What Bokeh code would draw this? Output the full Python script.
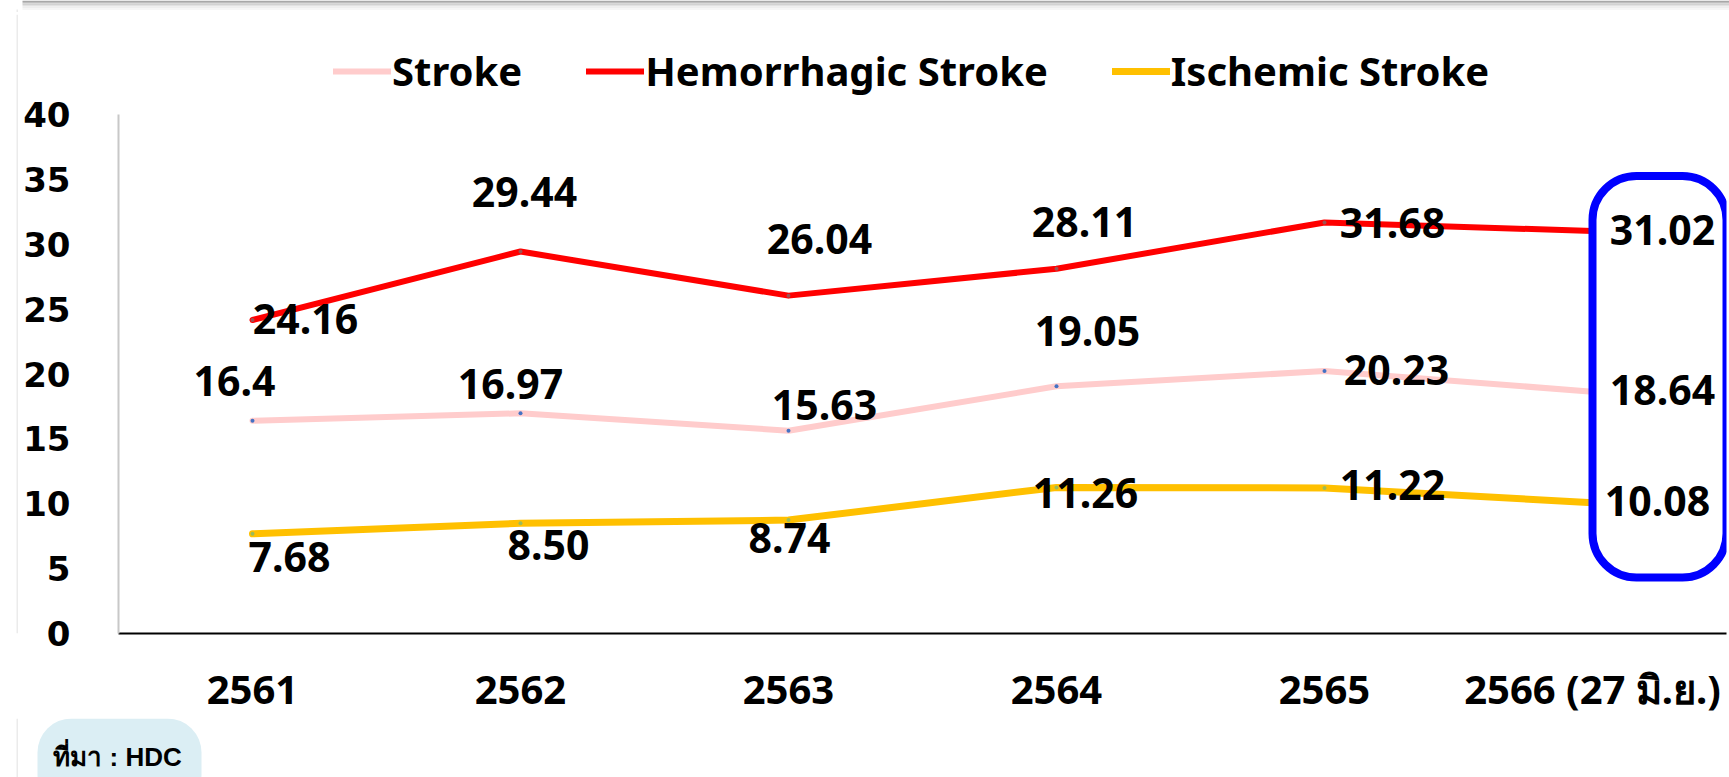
from bokeh.plotting import figure
from bokeh.layouts import column, row
from bokeh.models import (Range1d, FactorRange, Legend, LegendItem, BoxAnnotation, Label, FixedTicker)
from bokeh.core.properties import value
from bokeh.embed import file_html
from bokeh.resources import INLINE

# ---------------- data ----------------
categories = ["2561", "2562", "2563", "2564", "2565", "2566 (27 มิ.ย.)"]
stroke = [16.4, 16.97, 15.63, 19.05, 20.23, 18.64]
hemorrhagic = [24.16, 29.44, 26.04, 28.11, 31.68, 31.02]
ischemic = [7.68, 8.50, 8.74, 11.26, 11.22, 10.08]
series_names = ["Stroke", "Hemorrhagic Stroke", "Ischemic Stroke"]
y_ticks = [0, 5, 10, 15, 20, 25, 30, 35, 40]
source_note = "ที่มา : HDC"

stroke_labels = [f"{v:g}" for v in stroke]
hem_labels = [f"{v:.2f}" for v in hemorrhagic]
isc_labels = [f"{v:.2f}" for v in ischemic]

# label offsets in pixels (placement only)
stroke_dx = [-18, -10, 36, 31, 72, 70]
stroke_dy = [-40, -29, -26, -55, -1, -2]
hem_dx = [53, 4, 31, 28, 68, 70]
hem_dy = [-1, -60, -57, -47, 1, -1]
isc_dx = [37, 28, 1, 29, 68, 65]
isc_dy = [23, 22, 18, 6, -3, -2]

# styles
colors = ["#FFCCCC", "#FF0000", "#FFC000"]
dot_colors = ["#4472C4", "#A05050", "#9BBB59"]
widths = [6, 6, 7]

W, H = 1729, 777
TOP_H, BOT_H, STRIP_W = 12, 59, 19
MAIN_H = H - TOP_H - BOT_H
BORDER_TOP, BORDER_BOTTOM = 2, 85
FRAME_H = MAIN_H - BORDER_TOP - BORDER_BOTTOM
PX_PER_40 = 519                      # pixel height of the 0..40 span
Y_MAX = 40 * FRAME_H / PX_PER_40     # frame extends above 40 to hold the legend


def blank(width, height, xr, yr):
    f = figure(width=width, height=height, x_range=Range1d(*xr), y_range=Range1d(*yr),
               x_axis_type=None, y_axis_type=None, output_backend="svg", toolbar_location=None,
               min_border=0, min_border_left=0, min_border_right=0, min_border_top=0, min_border_bottom=0)
    f.outline_line_color = None
    f.background_fill_color = "white"
    f.border_fill_color = "white"
    return f


def box(fig, l, r, t, b, color, radius=0):
    fig.add_layout(BoxAnnotation(left=l, right=r, top=t, bottom=b, fill_color=color, fill_alpha=1,
                                 line_color=None, border_radius=radius))


# ---------------- top strip (card shadow) ----------------
p_top = blank(W, TOP_H, (0, W), (TOP_H, 0))
for (t, b, c) in [(0, 1.5, "#A8A8A8"), (1.5, 3, "#BEBEBE"), (3, 4.5, "#D2D2D2"),
                  (4.5, 6, "#E2E2E2"), (6, 7.5, "#EEEEEE"), (7.5, 9.5, "#F6F6F6")]:
    box(p_top, 22, W, t, b, c)
box(p_top, 16, 17.5, 9, TOP_H, "#EBEBEB")

# ---------------- left strip (card edge) ----------------
p_left = blank(STRIP_W, MAIN_H, (0, STRIP_W), (0, 1))
box(p_left, 16, 17.5, 1, 0, "#EBEBEB")

# ---------------- main chart ----------------
p = figure(width=W - STRIP_W, height=MAIN_H,
           x_range=FactorRange(*categories), y_range=Range1d(0, Y_MAX),
           output_backend="svg", toolbar_location=None,
           min_border_left=99, min_border_right=3,
           min_border_top=BORDER_TOP, min_border_bottom=BORDER_BOTTOM)
p.background_fill_color = "white"
p.border_fill_color = "white"
p.outline_line_color = None
p.xgrid.grid_line_color = None
p.ygrid.grid_line_color = None

xa = p.xaxis[0]
xa.axis_line_color = "black"
xa.axis_line_width = 2
xa.major_tick_line_color = None
xa.minor_tick_line_color = None
xa.major_label_text_font = "Noto Sans"
xa.major_label_text_font_size = "40px"
xa.major_label_text_font_style = "bold"
xa.major_label_text_color = "black"
xa.major_label_standoff = 21

ya = p.yaxis[0]
ya.ticker = FixedTicker(ticks=y_ticks)
ya.bounds = (0, 40)
ya.axis_line_color = "#C8C8C8"
ya.axis_line_width = 2
ya.major_tick_line_color = None
ya.minor_tick_line_color = None
ya.major_tick_out = 0
ya.minor_tick_out = 0
ya.major_label_text_font = "DejaVu Sans"
ya.major_label_text_font_size = "34px"
ya.major_label_text_font_style = "bold"
ya.major_label_text_color = "black"
ya.major_label_standoff = 48

# lines
line_renderers = []
for vals, c, dc, w in zip([stroke, hemorrhagic, ischemic], colors, dot_colors, widths):
    ln = p.line(categories, vals, line_color=c, line_width=w, line_cap="round", line_join="round")
    p.scatter(categories, vals, size=4, fill_color=dc, line_color=None)
    line_renderers.append(ln)

# data labels
for vals, labs, dx, dy in [(stroke, stroke_labels, stroke_dx, stroke_dy),
                           (hemorrhagic, hem_labels, hem_dx, hem_dy),
                           (ischemic, isc_labels, isc_dx, isc_dy)]:
    p.text(x=categories, y=vals, text=labs, x_offset=dx, y_offset=dy,
           text_font=value("Noto Sans"), text_font_size="41px", text_font_style="bold",
           text_align="center", text_baseline="middle", text_color="black")

# highlight box around latest year
p.add_layout(BoxAnnotation(left=5.5, right=6.0, top=35.26, bottom=4.32,
                           fill_alpha=0, line_color="#0000FF", line_alpha=1, line_width=8,
                           border_radius=44))

# legend (inside the frame, above the 40 line)
legend = Legend(items=[LegendItem(label=n, renderers=[r]) for n, r in zip(series_names, line_renderers)],
                orientation="horizontal", location=(215, 535),
                glyph_width=58, glyph_height=20, label_standoff=1, spacing=64,
                padding=0, margin=0, border_line_alpha=0, background_fill_alpha=0,
                label_text_font="Noto Sans", label_text_font_size="40px",
                label_text_font_style="bold", label_text_color="black")
p.add_layout(legend, "center")

# ---------------- bottom strip (source note) ----------------
p_bot = blank(W, BOT_H, (0, W), (BOT_H, 0))
box(p_bot, 16, 17.5, 0, BOT_H, "#EBEBEB")
box(p_bot, 37, 201, 0, 90, "#DBEEF4", radius=34)
p_bot.add_layout(Label(x=117, y=38, text=source_note,
                       text_font="Liberation Sans", text_font_size="26px", text_font_style="bold",
                       text_align="center", text_baseline="middle", text_color="black"))

layout = column(p_top, row(p_left, p), p_bot, spacing=0)
open("out.html", "w").write(file_html(layout, INLINE))
